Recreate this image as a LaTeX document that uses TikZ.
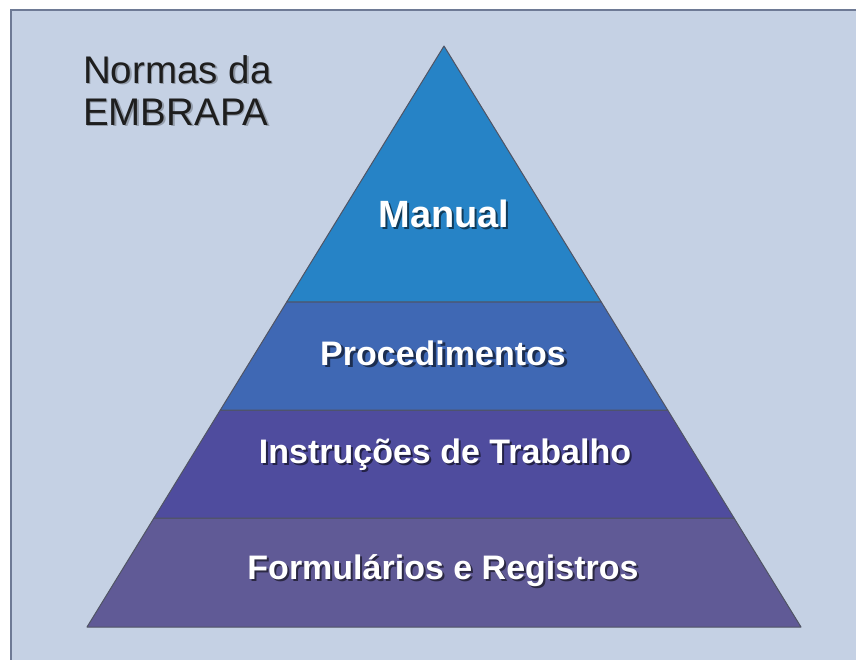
\documentclass[tikz,border=0pt]{standalone}
\usepackage{fontspec}
\setmainfont{Liberation Sans}
\usetikzlibrary{calc}
\definecolor{bgc}{HTML}{C5D1E4}
\definecolor{framec}{HTML}{6E7A95}
\definecolor{edgec}{HTML}{505464}
\definecolor{lay1}{HTML}{2683C6}
\definecolor{lay2}{HTML}{3F68B4}
\definecolor{lay3}{HTML}{4F4C9E}
\definecolor{lay4}{HTML}{605A96}
\definecolor{titlec}{HTML}{1E1E1E}
\tikzset{
  layer/.style={draw=edgec, line width=1pt, line join=round},
  lbl/.style={anchor=base, inner sep=0pt, text=white, font=\bfseries\fontsize{34}{37}\selectfont},
  lblshadow/.style={anchor=base, inner sep=0pt, text=black, opacity=0.55, font=\bfseries\fontsize{34}{37}\selectfont},
  ttl/.style={anchor=base west, inner sep=0pt, text=titlec, font=\fontsize{38.5}{42}\selectfont},
  ttlshadow/.style={anchor=base west, inner sep=0pt, text=black, opacity=0.25, font=\fontsize{38.5}{42}\selectfont},
}
\begin{document}
\begin{tikzpicture}[x=1pt,y=-1pt]
\useasboundingbox (0,0) rectangle (856,659);
% background panel
\fill[bgc] (11,10) rectangle (860,665);
\draw[framec, line width=2.5pt] (11,665) -- (11,10) -- (860,10);
% pyramid corners
\coordinate (apex) at (444,46);
\coordinate (bl) at (87,627);
\coordinate (br) at (801,627);
\coordinate (l1) at ($(apex)!0.4406!(bl)$);
\coordinate (r1) at ($(apex)!0.4406!(br)$);
\coordinate (l2) at ($(apex)!0.6265!(bl)$);
\coordinate (r2) at ($(apex)!0.6265!(br)$);
\coordinate (l3) at ($(apex)!0.8124!(bl)$);
\coordinate (r3) at ($(apex)!0.8124!(br)$);
% layers
\filldraw[layer, fill=lay4] (l3) -- (r3) -- (br) -- (bl) -- cycle;
\filldraw[layer, fill=lay3] (l2) -- (r2) -- (r3) -- (l3) -- cycle;
\filldraw[layer, fill=lay2] (l1) -- (r1) -- (r2) -- (l2) -- cycle;
\filldraw[layer, fill=lay1] (apex) -- (r1) -- (l1) -- cycle;
% labels
\node[lblshadow, font=\bfseries\fontsize{38}{41}\selectfont] (manualS) at (446,229) {Manual};
\node[lbl, font=\bfseries\fontsize{38}{41}\selectfont] (manual) at (444,227) {Manual};
\node[lblshadow] (procS) at (446,367) {Procedimentos};
\node[lbl] (proc) at (443,365) {Procedimentos};
\node[lblshadow] (instrS) at (447,465) {Instruções de Trabalho};
\node[lbl] (instr) at (445,463) {Instruções de Trabalho};
\node[lblshadow] (formS) at (445,581) {Formulários e Registros};
\node[lbl] (form) at (443,579) {Formulários e Registros};
% title
\node[ttlshadow] (t1S) at (84.5,84.5) {Normas da};
\node[ttl] (t1) at (83,83) {Normas da};
\node[ttlshadow] (t2S) at (84.5,126.5) {EMBRAPA};
\node[ttl] (t2) at (83,125) {EMBRAPA};
\end{tikzpicture}
\end{document}
